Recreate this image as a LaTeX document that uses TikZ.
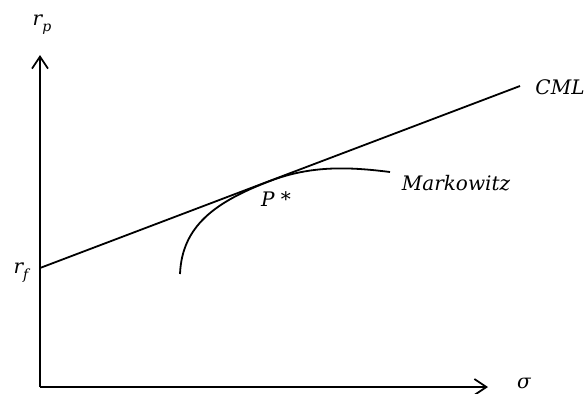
\documentclass[tikz,border=0pt]{standalone}
\usepackage{fontspec}
\newfontfamily\dvs{DejaVu Serif}
\usetikzlibrary{arrows.meta}
\newcommand{\lbl}[2]{#1\raisebox{-0.3em}{\fontsize{14}{14}\selectfont #2}}
\begin{document}
\begin{tikzpicture}[x=1pt,y=-1pt,
  axis/.style={line width=1.8pt,-{Straight Barb[length=12pt,width=16pt,line width=1.8pt]}},
  curve/.style={line width=1.8pt},
  lab/.style={inner sep=0pt,font=\dvs\itshape\fontsize{20}{24}\selectfont}]
\useasboundingbox (0,0) rectangle (587,394);
\coordinate (O) at (40,387);
\coordinate (Ytop) at (40,55);
\coordinate (Xend) at (488,387);
\coordinate (rf) at (40,268);
\coordinate (cmlend) at (520,86);
\coordinate (mstart) at (180,274);
\coordinate (P) at (270,181);
\coordinate (mend) at (390,172);
\draw[axis] (O) -- (Ytop);
\draw[axis] (O) -- (Xend);
\draw[curve] (rf) -- (cmlend);
\draw[curve] (mstart) .. controls (182,226) and (215,202) .. (P)
  .. controls (312,165) and (350,167) .. (mend);
\node[lab] (rp) at (42,25) {\lbl{r}{p}};
\node[lab] (rfl) at (21,273) {\lbl{r}{f}};
\node[lab] (sig) at (524,383) {σ};
\node[lab] (cml) at (560,87) {CML};
\node[lab] (mk) at (456,183) {Markowitz};
\node[lab] (ps) at (276,199) {P *};
\end{tikzpicture}
\end{document}
